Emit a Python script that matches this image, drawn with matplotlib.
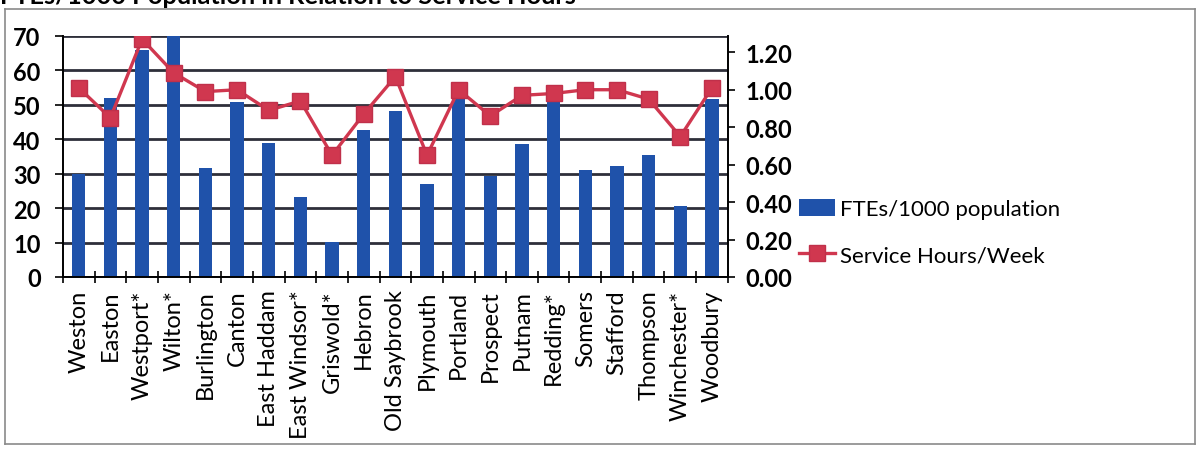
import matplotlib

matplotlib.use("Agg")
import matplotlib.pyplot as plt
import numpy as np

towns = ["Weston", "Easton", "Westport*", "Wilton*", "Burlington", "Canton",
         "East Haddam", "East Windsor*", "Griswold*", "Hebron", "Old Saybrook",
         "Plymouth", "Portland", "Prospect", "Putnam", "Redding*", "Somers",
         "Stafford", "Thompson", "Winchester*", "Woodbury"]
ftes = [30.0, 52.0, 66.0, 70.5, 31.6, 50.8, 39.0, 23.3, 10.1, 42.8, 48.2,
        27.0, 52.0, 29.4, 38.5, 51.4, 31.2, 32.2, 35.5, 20.7, 51.7]
hours = [1.01, 0.85, 1.27, 1.09, 0.99, 1.00, 0.89, 0.94, 0.65, 0.87, 1.07,
         0.65, 1.00, 0.86, 0.97, 0.98, 1.00, 1.00, 0.95, 0.75, 1.01]
left_ticks = [0, 10, 20, 30, 40, 50, 60, 70]
right_ticks = [0.0, 0.2, 0.4, 0.6, 0.8, 1.0, 1.2]

BLUE = "#1f52aa"
RED = "#d0374f"
GRID = "#2e2f3a"
plt.rcParams["font.family"] = ["Lato", "DejaVu Sans"]

fig = plt.figure(figsize=(11.99, 4.56), dpi=100)

# chart frame of the scanned page, as an empty background axes
frame = fig.add_axes([0.004, 0.024, 0.993, 0.954], zorder=-2)
frame.set_facecolor("none")
frame.set_xticks([])
frame.set_yticks([])
for sp in frame.spines.values():
    sp.set_color("#8a8a8a")
    sp.set_linewidth(1.2)

ax = fig.add_axes([0.0525, 0.3904, 0.5545, 0.5285])
ax.patch.set_visible(False)
x = np.arange(len(towns))

for t in left_ticks:
    ax.axhline(t, color=GRID, lw=2.0, zorder=1)
ax.bar(x, ftes, width=0.42, color=BLUE, zorder=2, label="FTEs/1000 population")
ax.set_ylim(0, 70)
ax.set_xlim(-0.5, len(towns) - 0.5)
ax.set_yticks(left_ticks)
ax.set_xticks(x)
ax.set_xticklabels(towns, rotation=90, fontsize=17)
ax.set_xticks(np.arange(-0.5, len(towns), 1), minor=True)
ax.tick_params(axis="x", which="major", length=0, pad=9)
ax.tick_params(axis="x", which="minor", length=9, width=1.2, direction="inout")
ax.tick_params(axis="y", labelsize=17, length=6, width=1.2, pad=10)
for lab in ax.get_yticklabels():
    lab.set_fontweight("bold")
for s in ["top", "right"]:
    ax.spines[s].set_visible(False)
ax.spines["left"].set_linewidth(1.4)
ax.spines["bottom"].set_linewidth(1.4)

ax2 = ax.twinx()
ax2.plot(x, hours, color=RED, lw=2.4, marker="s", markersize=12,
         markerfacecolor=RED, markeredgecolor="#c0304a", zorder=3,
         label="Service Hours/Week")
ax2.set_ylim(0, 1.287)
ax2.set_yticks(right_ticks)
ax2.set_yticklabels([f"{v:.2f}" for v in right_ticks], fontsize=17, fontweight="bold")
ax2.tick_params(axis="y", length=5, width=1.2, pad=8)
for s in ["top", "left", "bottom"]:
    ax2.spines[s].set_visible(False)
ax2.spines["right"].set_linewidth(1.4)

h1, l1 = ax.get_legend_handles_labels()
h2, l2 = ax2.get_legend_handles_labels()
fig.legend(h1 + h2, l1 + l2, loc="upper left", bbox_to_anchor=(0.65, 0.605),
           frameon=False, fontsize=16, handlelength=1.6, handleheight=0.8,
           labelspacing=1.15, handletextpad=0.25)

# title, cropped at the top edge as in the scan
fig.text(0.0, 1.008, "FTEs/1000 Population in Relation to Service Hours",
         fontsize=18.3, fontweight="bold", ha="left", va="center")

fig.savefig("out.png", dpi=100)
